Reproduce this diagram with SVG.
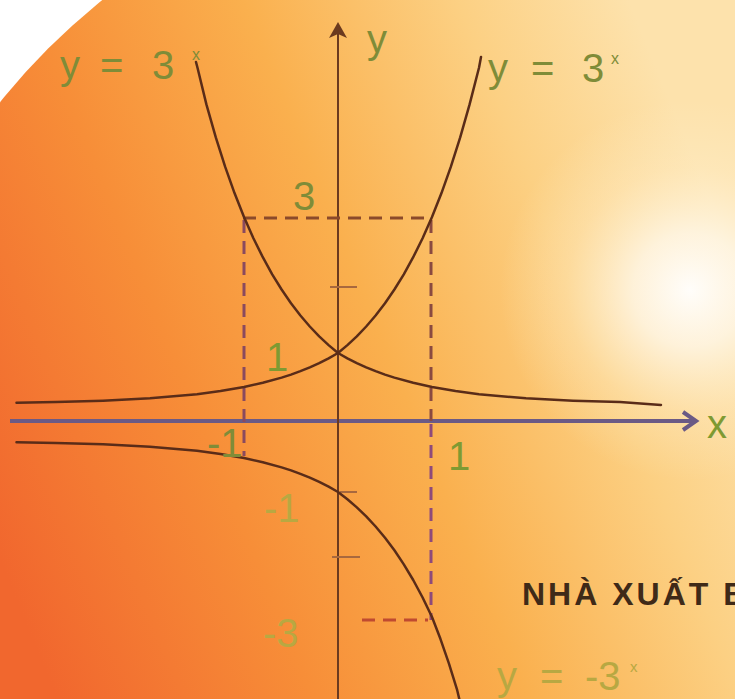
<svg xmlns="http://www.w3.org/2000/svg" width="735" height="699" viewBox="0 0 735 699">
<defs>
  <linearGradient id="bg" gradientUnits="userSpaceOnUse" x1="0" y1="560" x2="735" y2="260">
    <stop offset="0" stop-color="#f1672e"/>
    <stop offset="0.3" stop-color="#f78e38"/>
    <stop offset="0.55" stop-color="#fab04e"/>
    <stop offset="0.8" stop-color="#fcd083"/>
    <stop offset="1" stop-color="#fde2ac"/>
  </linearGradient>
  <radialGradient id="glow" gradientUnits="userSpaceOnUse" cx="690" cy="290" r="190">
    <stop offset="0" stop-color="#ffffff" stop-opacity="0.95"/>
    <stop offset="0.3" stop-color="#fffaf0" stop-opacity="0.75"/>
    <stop offset="0.65" stop-color="#fff2d4" stop-opacity="0.3"/>
    <stop offset="1" stop-color="#fff0d0" stop-opacity="0"/>
  </radialGradient>
  <style>
    .curve{fill:none;stroke:#5a2c18;stroke-width:2.5;stroke-linejoin:round;stroke-linecap:round}
    .dash{fill:none;stroke-width:3;stroke-dasharray:13 8}
    .tick{stroke:#a8683e;stroke-width:2}
    .lbl{font-family:"Liberation Sans",Arial,sans-serif;font-size:40px}
    .top{fill:#7f8c38}
    .grn{fill:#7e9a32}
    .yel{fill:#b8a842}
  </style>
</defs>

<g id="background">
  <rect x="0" y="0" width="735" height="699" fill="#ffffff"/>
  <circle cx="520" cy="520" r="667" fill="url(#bg)"/>
  <rect x="400" y="40" width="335" height="500" fill="url(#glow)"/>
</g>

<g id="axes">
  <line x1="10" y1="421" x2="694" y2="421" stroke="#6b5a85" stroke-width="4"/>
  <polyline points="683,412 696,421 683,430" fill="none" stroke="#6b5a85" stroke-width="4" stroke-linejoin="miter"/>
  <line x1="338" y1="699" x2="338" y2="30" stroke="#6b3a1f" stroke-width="2"/>
  <polygon points="338,22 347,38 338,34 329,38" fill="#6b3a1f"/>
  <line class="tick" x1="330" y1="287" x2="357" y2="287"/>
  <line class="tick" x1="340" y1="492" x2="357" y2="492"/>
  <line class="tick" x1="332" y1="557" x2="360" y2="557"/>
</g>

<g id="guides">
  <line class="dash" x1="243" y1="218" x2="432" y2="218" stroke="#8b4a2a"/>
  <line class="dash" x1="244" y1="220" x2="244" y2="456" stroke="#8a4a5e"/>
  <line class="dash" x1="431" y1="220" x2="431" y2="421" stroke="#8a4a40"/>
  <line class="dash" x1="431" y1="424" x2="431" y2="620" stroke="#8e4a7a"/>
  <line class="dash" x1="362" y1="620" x2="428" y2="620" stroke="#c04a30" stroke-dasharray="12 9"/>
</g>

<g id="curves">
  <path id="curve-3x" class="curve" d="M16.5,402.8 L56,402.1 L103,400.7 L150,398.3 L197,394.2 L220.5,391.1 L244,387 L262.8,382.8 L281.6,377.6 L291,374.6 L300.4,371.1 L309.8,367.3 L319.2,363.1 L328.6,358.3 L338,353 L347.4,345.1 L356.8,336.3 L366.2,326.5 L375.6,315.5 L385,303.2 L394.4,289.5 L403.8,274.3 L413.2,257.2 L422.6,238.2 L432,217 L441.4,193.3 L450.8,166.9 L460.2,137.4 L469.6,104.4 L479,67.7 L481,57"/>
  <path id="curve-3-x" class="curve" d="M661,405 L620,402.1 L573,400.7 L526,398.3 L479,394.2 L455.5,391.1 L432,387 L413.2,382.8 L394.4,377.6 L385,374.6 L375.6,371.1 L366.2,367.3 L356.8,363.1 L347.4,358.3 L338,353 L328.6,345.1 L319.2,336.3 L309.8,326.5 L300.4,315.5 L291,303.2 L281.6,289.5 L272.2,274.3 L262.8,257.2 L253.4,238.2 L244,217 L234.6,193.3 L225.2,166.9 L215.8,137.4 L206.4,104.4 L197.5,67.7 L196,62"/>
  <path id="curve-neg3x" class="curve" d="M16.5,442.2 L56,442.9 L103,444.3 L150,446.7 L197,450.8 L220.5,453.9 L244,458 L262.8,462.2 L281.6,467.4 L291,470.4 L300.4,473.9 L309.8,477.7 L319.2,481.9 L328.6,486.7 L338,492 L347.4,499.3 L356.8,507.4 L366.2,516.4 L375.6,526.5 L385,537.8 L394.4,550.3 L403.8,564.4 L413.2,580 L422.6,597.5 L432,617 L440.4,638.8 L448.8,663.1 L457.2,690.2 L460,702"/>
</g>

<g id="labels">
  <text class="lbl top" y="79"><tspan x="60">y</tspan><tspan x="100">=</tspan><tspan x="152">3</tspan><tspan x="192" y="60" font-size="16">x</tspan></text>
  <text class="lbl top" y="82"><tspan x="488">y</tspan><tspan x="531">=</tspan><tspan x="582">3</tspan><tspan x="611" y="64" font-size="16">x</tspan></text>
  <text class="lbl top" x="367" y="53" font-size="46">y</text>
  <text class="lbl grn" x="707" y="438" font-size="44">x</text>
  <text class="lbl top" x="293" y="210">3</text>
  <text class="lbl grn" x="266" y="371">1</text>
  <text class="lbl top" x="207" y="457" font-size="34">-1</text>
  <text class="lbl grn" x="448" y="470" font-size="38">1</text>
  <text class="lbl yel" x="264" y="522" font-size="38">-1</text>
  <text class="lbl yel" x="263" y="647" font-size="38">-3</text>
  <text class="lbl yel" y="690" font-size="36"><tspan x="497">y</tspan><tspan x="540">=</tspan><tspan x="585">-3</tspan><tspan x="630" y="672" font-size="15">x</tspan></text>
  <text x="522" y="605" font-family="'Liberation Sans',Arial,sans-serif" font-weight="bold" font-size="32" letter-spacing="3" fill="#3f2a18">NHÀ XUẤT BẢN</text>
</g>
</svg>
